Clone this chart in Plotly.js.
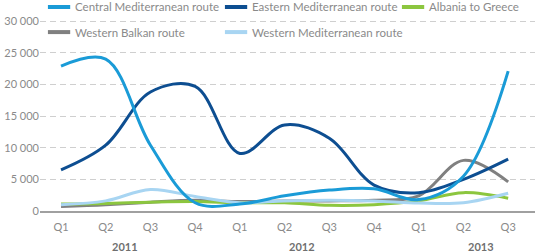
<!DOCTYPE html>
<html>
<head>
<meta charset="utf-8">
<script src="https://cdn.plot.ly/plotly-3.0.1.min.js"></script>
<style>html,body{margin:0;padding:0;background:#fff}#chart{width:546px;height:252px}</style>
</head>
<body>
<div id="chart"></div>
<script>
const quarters = ["Q1","Q2","Q3","Q4","Q1","Q2","Q3","Q4","Q1","Q2","Q3"];
const years = ["2011","2012","2013"];
const seriesNames = ["Central Mediterranean route","Eastern Mediterranean route","Albania to Greece","Western Balkan route","Western Mediterranean route"];
const seriesColors = ["#1a9bd7","#0d4e91","#8cc63f","#808080","#a8d5f2"];
const centralMed   = [22900, 24000, 10400, 1300, 1100, 2400, 3300, 3500, 1800, 5500, 22100];
const easternMed   = [6500, 10400, 18800, 19700, 9100, 13600, 11500, 4100, 2900, 5000, 8200];
const albaniaGreece= [1100, 1200, 1400, 1500, 1300, 1300, 900, 1000, 1600, 2900, 2000];
const westernBalkan= [700, 1000, 1400, 1700, 1500, 1600, 1600, 1700, 2400, 8000, 4600];
const westernMed   = [1000, 1600, 3400, 2300, 1300, 1600, 1700, 1600, 1250, 1300, 2800];
const seriesValues = [centralMed, easternMed, albaniaGreece, westernBalkan, westernMed];

const xs = quarters.map((q, i) => i);
const font = "Lato, 'Open Sans', sans-serif";

// draw order: gray, green, light blue, dark blue, central
const drawOrder = [3, 2, 4, 1, 0];
const data = drawOrder.map(i => ({
  x: xs, y: seriesValues[i], name: seriesNames[i], type: "scatter", mode: "lines",
  line: {color: seriesColors[i], width: 3, shape: "spline", smoothing: 1},
  hoverinfo: "skip", showlegend: false
}));

// manual legend (2 rows, 3 columns)
const shapes = [];
const annotations = [];
const colW = 177 / 495;
seriesNames.forEach((n, i) => {
  const row = i < 3 ? 0 : 1;
  const col = i < 3 ? i : i - 3;
  const yy = row === 0 ? 1.057 : 0.927;
  const x0 = 0.016 + col * colW;
  shapes.push({type: "line", xref: "paper", yref: "paper", x0: x0, x1: x0 + 0.045, y0: yy, y1: yy,
    line: {color: seriesColors[i], width: 4}});
  annotations.push({text: n, xref: "paper", yref: "paper", x: x0 + 0.051, y: yy, xanchor: "left", yanchor: "middle",
    showarrow: false, font: {size: 11.5, color: "#8a8a8a"}});
});
const yearX = [1.43, 5.39, 9.4];
years.forEach((y, i) => annotations.push({text: "<b>" + y + "</b>", x: yearX[i], xref: "x", y: -0.182, yref: "paper",
  yanchor: "middle", showarrow: false, font: {size: 11, color: "#6f6f6f"}}));

const layout = {
  width: 546, height: 252,
  margin: {l: 40, r: 11, t: 18, b: 41},
  paper_bgcolor: "#fff", plot_bgcolor: "#fff",
  separators: ", ",
  font: {family: font, color: "#8a8a8a", size: 11},
  showlegend: false,
  xaxis: {range: [-0.47, 10.6], tickvals: xs, ticktext: quarters, showgrid: false,
    zeroline: false, showline: true, linecolor: "#a0a0a0", linewidth: 1.5,
    ticks: "", ticklabelstandoff: 5, tickfont: {size: 11, color: "#8a8a8a"}, fixedrange: true},
  yaxis: {range: [0, 30500], tickvals: [0, 5000, 10000, 15000, 20000, 25000, 30000],
    tickformat: ",d", showgrid: true, gridcolor: "#cfcfcf", griddash: "6px,4px", gridwidth: 1,
    zeroline: false, showline: false, ticks: "", tickfont: {size: 11, color: "#8a8a8a"},
    fixedrange: true},
  shapes: shapes,
  annotations: annotations
};
Plotly.newPlot("chart", data, layout, {displayModeBar: false, staticPlot: true});
</script>
</body>
</html>
